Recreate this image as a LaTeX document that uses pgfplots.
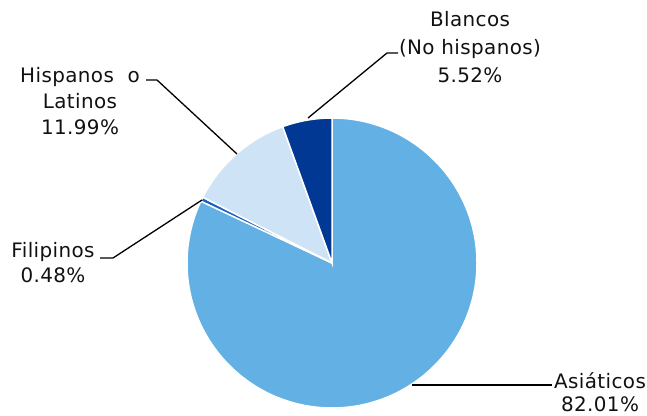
\documentclass[border=0pt]{standalone}
\usepackage{fontspec}
\setmainfont{DejaVu Sans}[LetterSpace=2]
\usepackage{pgfplots}
\pgfplotsset{compat=1.18}

\definecolor{asia}{HTML}{63B0E4}
\definecolor{fili}{HTML}{1A5FC4}
\definecolor{hisp}{HTML}{CFE3F6}
\definecolor{blan}{HTML}{003893}
\definecolor{txt}{HTML}{111111}

\begin{document}
\begin{tikzpicture}
\begin{axis}[x=145bp, y=145bp,
  xmin=-2.2897, xmax=2.1724, ymin=-1.0483, ymax=1.8138,
  hide axis, clip=false]
\coordinate (bl) at (rel axis cs:0,0);
\coordinate (tr) at (rel axis cs:1,1);

% slices, clockwise from the top
\xdef\start{90}
\foreach \v/\c in {82.01/asia, 0.48/fili, 11.99/hisp, 5.52/blan}{
  \pgfmathsetmacro\stop{\start-3.6*\v}
  \edef\slice{\noexpand\fill[\c, draw=white, line width=1.5bp]
    (axis cs:0,0) -- ++(\start:145bp)
    arc[start angle=\start, end angle=\stop, radius=145bp] -- cycle;}
  \slice
  \xdef\start{\stop}
}

% leader lines
\draw[black, line width=1.3bp] (axis cs:-0.1655,1.0) -- (axis cs:0.3793,1.4483) -- (axis cs:0.4552,1.4483);
\draw[black, line width=1.3bp] (axis cs:-1.2828,1.2621) -- (axis cs:-1.2069,1.2621) -- (axis cs:-0.6552,0.7517);
\draw[black, line width=1.3bp] (axis cs:-1.6,0.0345) -- (axis cs:-1.5103,0.0345) -- (axis cs:-0.8966,0.4345);
\draw[black, line width=1.3bp] (axis cs:0.5517,-0.8414) -- (axis cs:1.5172,-0.8414);

% labels
\tikzset{lbl/.style={align=center, text=txt, inner sep=0pt}}
\node[lbl, font=\fontsize{20}{28}\selectfont] at (axis cs:0.9517,1.4897) {Blancos\\(No hispanos)\\5.52\%};
\node[lbl, font=\fontsize{20}{26.5}\selectfont] at (axis cs:-1.7379,1.1172) {Hispanos\hspace{0.35em} o\\Latinos\\11.99\%};
\node[lbl, font=\fontsize{20}{25}\selectfont] at (axis cs:-1.9241,0.0034) {Filipinos\\0.48\%};
\node[lbl, font=\fontsize{20}{22.5}\selectfont] at (axis cs:1.8483,-0.8897) {Asiáticos\\82.01\%};
\end{axis}
\pgfresetboundingbox
\path[use as bounding box] (bl) rectangle (tr);
\end{tikzpicture}
\end{document}
